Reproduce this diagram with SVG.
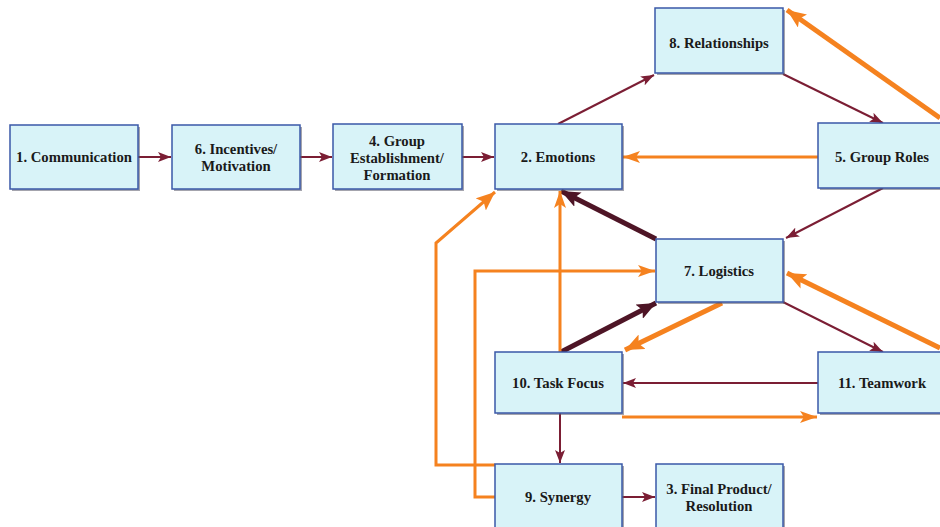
<svg xmlns="http://www.w3.org/2000/svg" width="940" height="527" viewBox="0 0 940 527">
  <style>
    .box { fill: #d8f3f8; stroke: #3a58a8; stroke-width: 1.5; }
    .shadow { fill: #5a5a6a; opacity: 0.55; }
    .lbl { font-family: "Liberation Serif", "Times New Roman", serif; font-weight: bold; font-size: 14.7px; fill: #1a1a1a; text-anchor: middle; }
    .dk { fill: none; stroke: #7b1e34; stroke-width: 2; }
    .dkb { fill: none; stroke: #4e1526; stroke-width: 5; }
    .or { fill: none; stroke: #f5821f; stroke-width: 3; stroke-linejoin: miter; }
    .orb { fill: none; stroke: #f5821f; stroke-width: 5; }
  </style>
  <defs>
    <marker id="aDk" markerUnits="userSpaceOnUse" markerWidth="14" markerHeight="10" refX="13" refY="5" orient="auto">
      <path d="M0,0 L13,5 L0,10 L3,5 z" fill="#7b1e34"/>
    </marker>
    <marker id="aDkB" markerUnits="userSpaceOnUse" markerWidth="20" markerHeight="16" refX="19" refY="8" orient="auto">
      <path d="M0,0 L19,8 L0,16 L4,8 z" fill="#4e1526"/>
    </marker>
    <marker id="aOr" markerUnits="userSpaceOnUse" markerWidth="18" markerHeight="12" refX="17" refY="6" orient="auto">
      <path d="M0,0 L17,6 L0,12 L4,6 z" fill="#f5821f"/>
    </marker>
    <marker id="aOrB" markerUnits="userSpaceOnUse" markerWidth="20" markerHeight="16" refX="19" refY="8" orient="auto">
      <path d="M0,0 L19,8 L0,16 L4,8 z" fill="#f5821f"/>
    </marker>
  </defs>

  <rect width="940" height="527" fill="#ffffff"/>

  <g id="connectors">
    <!-- dark thin flows -->
    <path class="dk" d="M138,157 L171,157" marker-end="url(#aDk)"/>
    <path class="dk" d="M300,157 L332,157" marker-end="url(#aDk)"/>
    <path class="dk" d="M462,157 L494,157" marker-end="url(#aDk)"/>
    <path class="dk" d="M558,124 L654,75" marker-end="url(#aDk)"/>
    <path class="dk" d="M783,74 L883,123" marker-end="url(#aDk)"/>
    <path class="dk" d="M883,188 L786,238" marker-end="url(#aDk)"/>
    <path class="dk" d="M783,302 L883,352" marker-end="url(#aDk)"/>
    <path class="dk" d="M818,383 L623,383" marker-end="url(#aDk)"/>
    <path class="dk" d="M560,413 L560,463" marker-end="url(#aDk)"/>
    <path class="dk" d="M622,497 L655,497" marker-end="url(#aDk)"/>
    <!-- dark heavy flows -->
    <path class="dkb" d="M656,239 L561,191" marker-end="url(#aDkB)"/>
    <path class="dkb" d="M561,352 L656,303" marker-end="url(#aDkB)"/>
    <!-- orange feedback flows -->
    <path class="or" d="M818,157 L623,157" marker-end="url(#aOr)"/>
    <path class="orb" d="M940,118 L787,10" marker-end="url(#aOrB)"/>
    <path class="orb" d="M940,348 L787,273" marker-end="url(#aOrB)"/>
    <path class="orb" d="M722,303 L625,350" marker-end="url(#aOrB)"/>
    <path class="or" d="M560,352 L560,191" marker-end="url(#aOr)"/>
    <path class="or" d="M495,465 L436,465 L436,243 L495,192" marker-end="url(#aOrB)"/>
    <path class="or" d="M495,497 L475,497 L475,271 L655,271" marker-end="url(#aOr)"/>
    <path class="or" d="M622,417 L817,417" marker-end="url(#aOr)"/>
  </g>

  <g id="n1">
    <rect class="shadow" x="12" y="127" width="128" height="64"/>
    <rect class="box" x="10" y="125" width="128" height="64"/>
    <text class="lbl" x="74" y="162">1. Communication</text>
  </g>
  <g id="n6">
    <rect class="shadow" x="174" y="127" width="128" height="64"/>
    <rect class="box" x="172" y="125" width="128" height="64"/>
    <text class="lbl" x="236" y="154">6. Incentives/</text>
    <text class="lbl" x="236" y="171">Motivation</text>
  </g>
  <g id="n4">
    <rect class="shadow" x="335" y="126" width="129" height="65"/>
    <rect class="box" x="333" y="124" width="129" height="65"/>
    <text class="lbl" x="397" y="146">4. Group</text>
    <text class="lbl" x="397" y="163">Establishment/</text>
    <text class="lbl" x="397" y="180">Formation</text>
  </g>
  <g id="n2">
    <rect class="shadow" x="497" y="126" width="127" height="65"/>
    <rect class="box" x="495" y="124" width="127" height="65"/>
    <text class="lbl" x="558" y="162">2. Emotions</text>
  </g>
  <g id="n8">
    <rect class="shadow" x="657" y="10" width="128" height="65"/>
    <rect class="box" x="655" y="8" width="128" height="65"/>
    <text class="lbl" x="719" y="48">8. Relationships</text>
  </g>
  <g id="n5">
    <rect class="shadow" x="820" y="125" width="128" height="65"/>
    <rect class="box" x="818" y="123" width="128" height="65"/>
    <text class="lbl" x="882" y="162">5. Group Roles</text>
  </g>
  <g id="n7">
    <rect class="shadow" x="658" y="241" width="127" height="63"/>
    <rect class="box" x="656" y="239" width="127" height="63"/>
    <text class="lbl" x="719" y="276">7. Logistics</text>
  </g>
  <g id="n10">
    <rect class="shadow" x="497" y="354" width="127" height="61"/>
    <rect class="box" x="495" y="352" width="127" height="61"/>
    <text class="lbl" x="558" y="388">10. Task Focus</text>
  </g>
  <g id="n11">
    <rect class="shadow" x="820" y="354" width="128" height="61"/>
    <rect class="box" x="818" y="352" width="128" height="61"/>
    <text class="lbl" x="882" y="388">11. Teamwork</text>
  </g>
  <g id="n9">
    <rect class="shadow" x="497" y="466" width="127" height="65"/>
    <rect class="box" x="495" y="464" width="127" height="65"/>
    <text class="lbl" x="558" y="502">9. Synergy</text>
  </g>
  <g id="n3">
    <rect class="shadow" x="658" y="466" width="127" height="65"/>
    <rect class="box" x="656" y="464" width="127" height="65"/>
    <text class="lbl" x="719" y="494">3. Final Product/</text>
    <text class="lbl" x="719" y="511">Resolution</text>
  </g>
</svg>
